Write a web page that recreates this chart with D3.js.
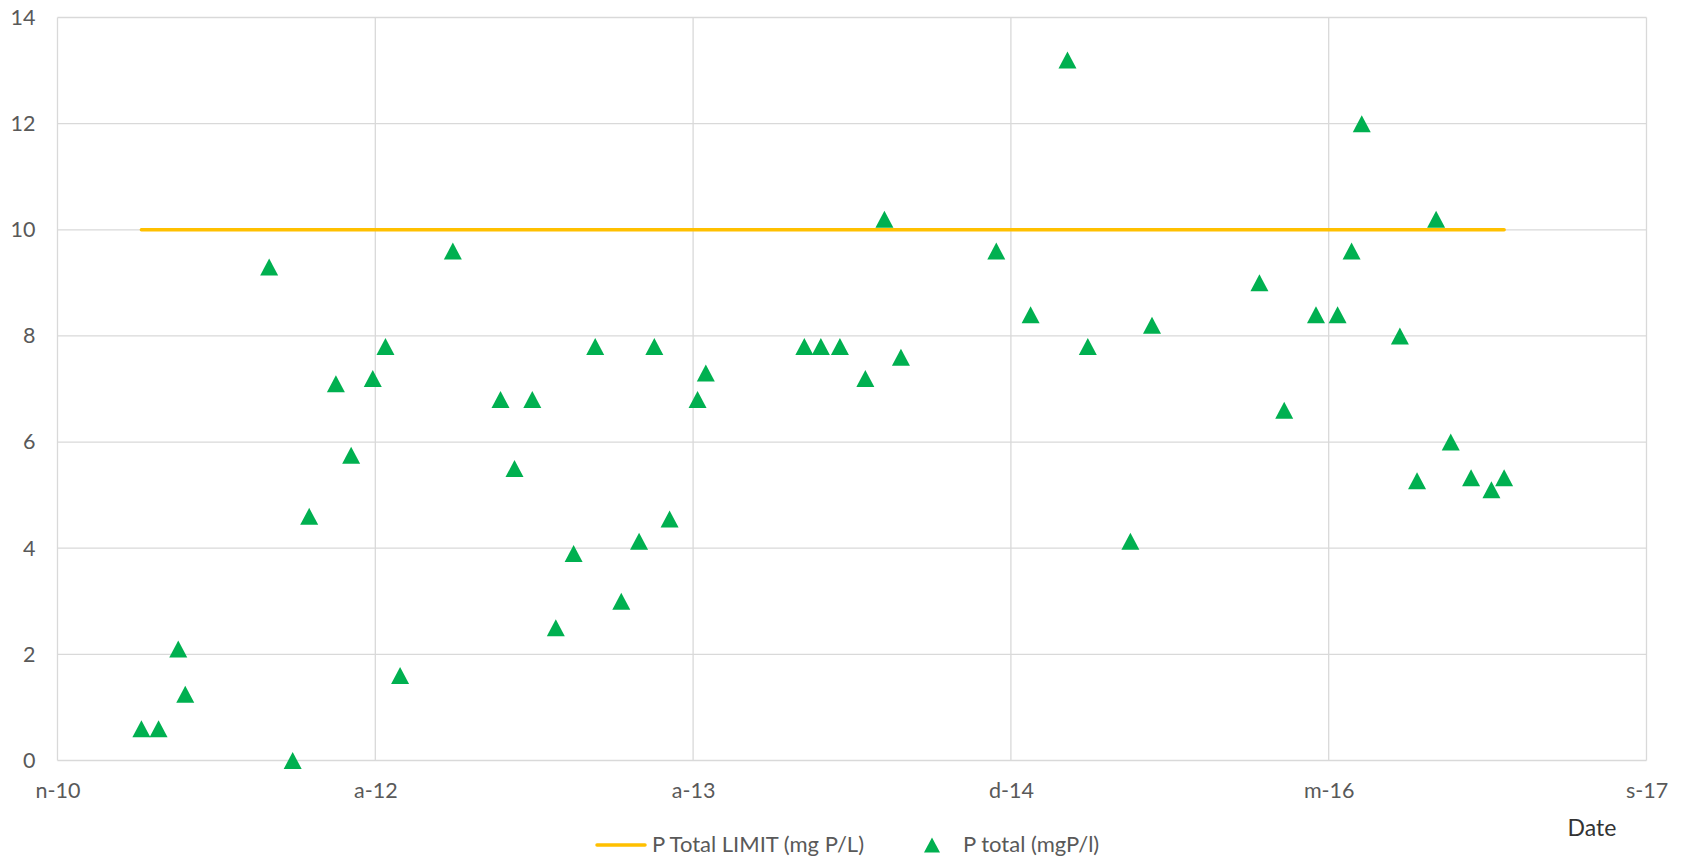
<!DOCTYPE html>
<html>
<head>
<meta charset="utf-8">
<script src="https://cdn.jsdelivr.net/npm/d3@7"></script>
<style>
  html, body { margin: 0; padding: 0; background: #fff; }
  svg { display: block; font-family: Lato, "Open Sans", sans-serif; }
</style>
</head>
<body>
<svg id="chart" width="1688" height="859"></svg>
<script>
// Sampling dates and measured total phosphorus (mgP/l)
const sampleDates = [
  "2011-03-30", "2011-04-26", "2011-05-27", "2011-06-07", "2011-10-17",
  "2011-11-23", "2011-12-19", "2012-01-30", "2012-02-23", "2012-03-28",
  "2012-04-17", "2012-05-10", "2012-08-01", "2012-10-15", "2012-11-06",
  "2012-12-04", "2013-01-10", "2013-02-07", "2013-03-13", "2013-04-23",
  "2013-05-21", "2013-06-14", "2013-07-08", "2013-08-21", "2013-09-03",
  "2014-02-05", "2014-03-03", "2014-04-02", "2014-05-12", "2014-06-11",
  "2014-07-07", "2014-12-04", "2015-01-27", "2015-03-26", "2015-04-27",
  "2015-07-03", "2015-08-06", "2016-01-22", "2016-03-01", "2016-04-20",
  "2016-05-24", "2016-06-15", "2016-07-01", "2016-08-30", "2016-09-26",
  "2016-10-26", "2016-11-18", "2016-12-20", "2017-01-21", "2017-02-10"
];
const pTotal = [
  0.6, 0.6, 2.1, 1.25, 9.3,
  0.0, 4.6, 7.1, 5.75, 7.2,
  7.8, 1.6, 9.6, 6.8, 5.5,
  6.8, 2.5, 3.9, 7.8, 3.0,
  4.13, 7.8, 4.55, 6.8, 7.3,
  7.8, 7.8, 7.8, 7.2, 10.2,
  7.6, 9.6, 8.4, 13.2, 7.8,
  4.13, 8.2, 9.0, 6.6, 8.4,
  8.4, 9.6, 12.0, 8.0, 5.27,
  10.2, 6.0, 5.33, 5.1, 5.33
];

// Discharge limit for total phosphorus (mg P/L)
const limitDates = ["2011-03-30", "2017-02-10"];
const limitValues = [10, 10];

// Axis ticks
const xTickDates = ["2010-11-18", "2012-04-01", "2013-08-14", "2014-12-27", "2016-05-10", "2017-09-22"];
const xTickLabels = ["n-10", "a-12", "a-13", "d-14", "m-16", "s-17"];
const yTicks = [0, 2, 4, 6, 8, 10, 12, 14];

const seriesNames = ["P Total LIMIT (mg P/L)", "P total (mgP/l)"];
const xAxisTitle = "Date";

const parse = d3.utcParse("%Y-%m-%d");
const svg = d3.select("#chart");

const plot = { left: 57.5, right: 1646.5, top: 17.5, bottom: 760.5 };

const x = d3.scaleUtc()
  .domain([parse(xTickDates[0]), parse(xTickDates[xTickDates.length - 1])])
  .range([plot.left, plot.right]);
const y = d3.scaleLinear()
  .domain([0, 14])
  .range([plot.bottom, plot.top]);

const gridColor = "#d9d9d9";
const textColor = "#595959";
const labelSize = 21.5;

// Gridlines
const grid = svg.append("g");
grid.selectAll("line.h").data(yTicks).join("line")
  .attr("x1", plot.left).attr("x2", plot.right)
  .attr("y1", d => y(d)).attr("y2", d => y(d))
  .attr("stroke", gridColor).attr("stroke-width", 1.3);
grid.selectAll("line.v").data(xTickDates).join("line")
  .attr("x1", d => x(parse(d))).attr("x2", d => x(parse(d)))
  .attr("y1", plot.top).attr("y2", plot.bottom)
  .attr("stroke", gridColor).attr("stroke-width", 1.3);

// Y axis labels
const yAxis = d3.axisLeft(y).tickValues(yTicks).tickSize(0).tickPadding(22);
svg.append("g")
  .attr("transform", `translate(${plot.left},0)`)
  .call(yAxis)
  .call(g => g.select(".domain").remove())
  .call(g => g.selectAll("text")
    .attr("fill", textColor)
    .attr("font-size", labelSize)
    .attr("font-family", "Lato, sans-serif"));

// X axis labels
const xAxis = d3.axisBottom(x)
  .tickValues(xTickDates.map(parse))
  .tickFormat((d, i) => xTickLabels[i])
  .tickSize(0).tickPadding(22);
svg.append("g")
  .attr("transform", `translate(0,${plot.bottom})`)
  .call(xAxis)
  .call(g => g.select(".domain").remove())
  .call(g => g.selectAll("text")
    .attr("fill", textColor)
    .attr("font-size", labelSize)
    .attr("font-family", "Lato, sans-serif"));

// Limit line
const limitData = limitDates.map((d, i) => ({ date: parse(d), value: limitValues[i] }));
svg.append("path")
  .datum(limitData)
  .attr("fill", "none")
  .attr("stroke", "#ffc000")
  .attr("stroke-width", 3.5)
  .attr("stroke-linecap", "round")
  .attr("d", d3.line().x(d => x(d.date)).y(d => y(d.value)));

// Measurements as triangle markers
const tri = (w, h) => `M0,${-h / 2}L${w / 2},${h / 2}L${-w / 2},${h / 2}Z`;
const points = sampleDates.map((d, i) => ({ date: parse(d), value: pTotal[i] }));
svg.append("g").selectAll("path").data(points).join("path")
  .attr("transform", d => `translate(${x(d.date)},${y(d.value)})`)
  .attr("d", tri(18, 17))
  .attr("fill", "#00b050");

// Axis title
svg.append("text")
  .attr("x", 1592).attr("y", 836)
  .attr("text-anchor", "middle")
  .attr("font-size", 23)
  .attr("fill", "#333333")
  .text(xAxisTitle);

// Legend
const legend = svg.append("g");
legend.append("line")
  .attr("x1", 597).attr("x2", 645).attr("y1", 845).attr("y2", 845)
  .attr("stroke", "#ffc000").attr("stroke-width", 3.5).attr("stroke-linecap", "round");
legend.append("text")
  .attr("x", 652).attr("y", 852)
  .attr("font-size", 22).attr("fill", textColor)
  .text(seriesNames[0]);
legend.append("path")
  .attr("transform", "translate(932,845)")
  .attr("d", tri(16, 15))
  .attr("fill", "#00b050");
legend.append("text")
  .attr("x", 963).attr("y", 852)
  .attr("font-size", 22).attr("fill", textColor)
  .text(seriesNames[1]);
</script>
</body>
</html>
